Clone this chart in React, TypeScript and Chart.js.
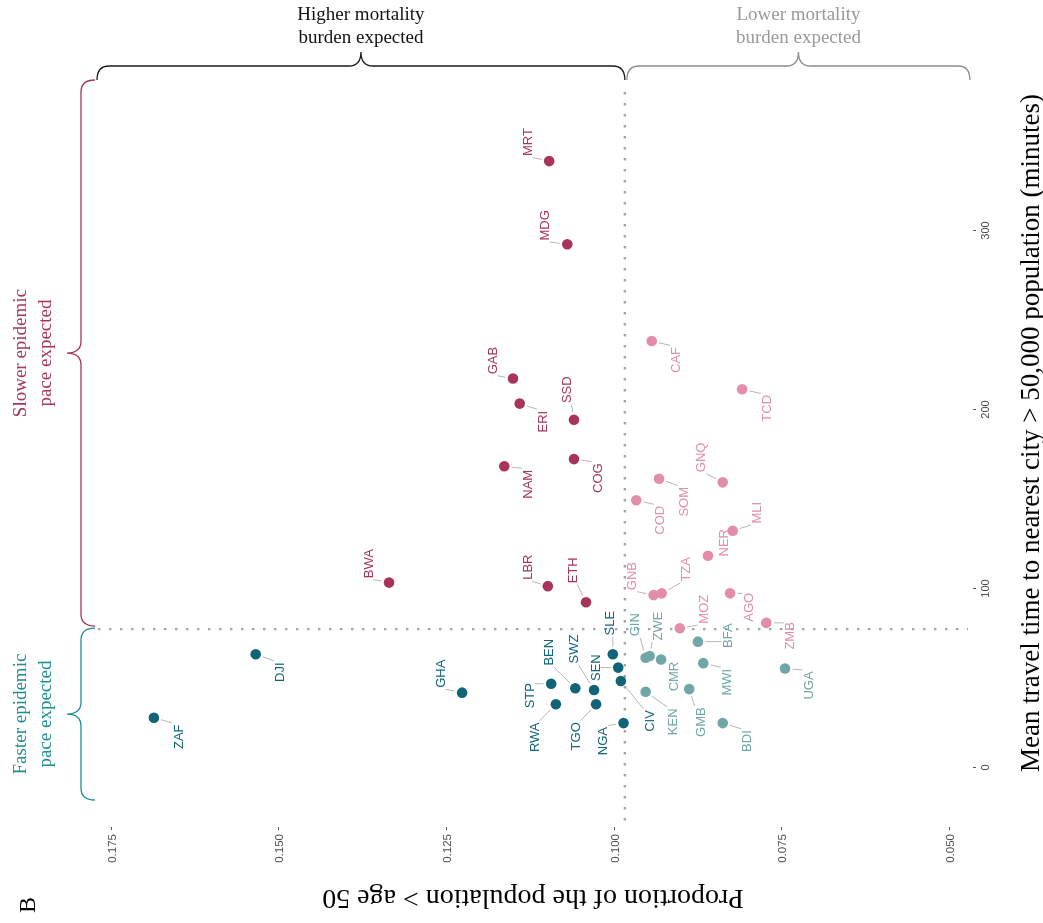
import { useEffect, useRef } from "react";
import { Chart, registerables } from "chart.js";

Chart.register(...registerables);

// Country codes with their share of population over 50 and travel time to a city > 50k
const CODES = [
  "MRT", "MDG", "GAB", "ERI", "SSD", "NAM", "COG", "BWA", "LBR", "ETH",
  "CAF", "TCD", "COD", "SOM", "GNQ", "MLI", "NER", "GNB", "TZA", "AGO",
  "MOZ", "ZMB", "BFA", "GIN", "ZWE", "CMR", "MWI", "UGA", "KEN", "GMB",
  "BDI", "SLE", "SEN", "CIV", "NGA", "STP", "RWA", "BEN", "SWZ", "TGO",
  "ZAF", "DJI", "GHA",
];
const PROP_OVER_50 = [
  0.1096, 0.1069, 0.115, 0.114, 0.1059, 0.1163, 0.1059, 0.1335, 0.1098, 0.1041,
  0.0943, 0.0808, 0.0966, 0.0932, 0.0837, 0.0822, 0.0859, 0.094, 0.0928, 0.0826,
  0.0901, 0.0772, 0.0874, 0.0952, 0.0946, 0.0929, 0.0866, 0.0744, 0.0952, 0.0887,
  0.0837, 0.1001, 0.0993, 0.0989, 0.0985, 0.1093, 0.1086, 0.1057, 0.1029, 0.1026,
  0.1686, 0.1534, 0.1226,
];
const TRAVEL_MINUTES = [
  338.5, 292, 217, 203, 194, 168, 172, 103, 101, 92,
  238, 211, 149, 161, 159, 132, 118, 96, 97, 97,
  77.5, 80.5, 70, 61, 62, 60, 58, 55, 42, 43.5,
  24.5, 63, 55.5, 48, 24.5, 46.5, 35, 44, 43, 35,
  27.5, 63, 41.5,
];

// Median-style split lines
const PROP_THRESHOLD = 0.0983;
const TRAVEL_THRESHOLD = 77;

const PROP_TICKS = [0.175, 0.15, 0.125, 0.1, 0.075, 0.05];
const TRAVEL_TICKS = [0, 100, 200, 300];

// Axis extents
const PROP_MIN = 0.04709;
const PROP_MAX = 0.17694;
const TRAVEL_MIN = -33;
const TRAVEL_MAX = 377.1;

// Label placement (pixel offset of the label centre from its point)
const LABEL_OFFSETS: Record<string, [number, number]> = {
  MRT: [-22, -19], MDG: [-23, -19], GAB: [-21, -18], ERI: [23, 18], SSD: [-8, -30],
  NAM: [23, 18], COG: [23, 19], BWA: [-21, -19], LBR: [-21, -19], ETH: [-14, -32],
  CAF: [24, 19], TCD: [24, 19], COD: [23, 20], SOM: [24, 23], GNQ: [-22, -25],
  MLI: [24, -18], NER: [15, -13], GNB: [-22, -19], TZA: [24, -24], AGO: [18, 14],
  MOZ: [23, -19], ZMB: [23, 13], BFA: [29, -6], GIN: [-11, -33], ZWE: [8, -30],
  CMR: [12, 17], MWI: [23, 19], UGA: [23, 17], KEN: [27, 30], GMB: [11, 33],
  BDI: [24, 18], SLE: [-4, -31], SEN: [-23, 0], CIV: [28, 40], NGA: [-21, 18],
  STP: [-22, 12], RWA: [-22, 33], BEN: [-27, -36], SWZ: [-21, -41], TGO: [-21, 32],
  ZAF: [24, 19], DJI: [24, 18], GHA: [-22, -19],
};

const CRIMSON = "#A8345E";
const PINK = "#E38DAA";
const DARK_TEAL = "#0F6577";
const LIGHT_TEAL = "#6FA7A6";
const BRACE_TEAL = "#1E8E8C";

const SANS = "'Liberation Sans', Arial, sans-serif";
const SERIF = "'Liberation Serif', 'Times New Roman', serif";

const WIDTH = 1043;
const HEIGHT = 923;

function colorFor(prop: number, minutes: number) {
  const higherMortality = prop > PROP_THRESHOLD;
  const slower = minutes > TRAVEL_THRESHOLD;
  if (slower) return higherMortality ? CRIMSON : PINK;
  return higherMortality ? DARK_TEAL : LIGHT_TEAL;
}

function vText(ctx: CanvasRenderingContext2D, text: string, x: number, y: number, align: CanvasTextAlign, capOffset: number) {
  ctx.save();
  ctx.translate(x, y);
  ctx.rotate(-Math.PI / 2);
  ctx.textAlign = align;
  ctx.textBaseline = "alphabetic";
  ctx.fillText(text, 0, capOffset);
  ctx.restore();
}

// Curly brace laid horizontally, cusp pointing up
function hBrace(ctx: CanvasRenderingContext2D, x1: number, x2: number, yEnd: number, depth: number, r: number) {
  const yl = yEnd - depth;
  const xm = (x1 + x2) / 2;
  ctx.beginPath();
  ctx.moveTo(x1, yEnd);
  ctx.quadraticCurveTo(x1, yl, x1 + r, yl);
  ctx.lineTo(xm - r, yl);
  ctx.quadraticCurveTo(xm, yl, xm, yl - depth);
  ctx.quadraticCurveTo(xm, yl, xm + r, yl);
  ctx.lineTo(x2 - r, yl);
  ctx.quadraticCurveTo(x2, yl, x2, yEnd);
  ctx.stroke();
}

// Curly brace laid vertically, cusp pointing left
function vBrace(ctx: CanvasRenderingContext2D, y1: number, y2: number, xEnd: number, depth: number, r: number) {
  const xl = xEnd - depth;
  const ym = (y1 + y2) / 2;
  ctx.beginPath();
  ctx.moveTo(xEnd, y1);
  ctx.quadraticCurveTo(xl, y1, xl, y1 + r);
  ctx.lineTo(xl, ym - r);
  ctx.quadraticCurveTo(xl, ym, xl - depth, ym);
  ctx.quadraticCurveTo(xl, ym, xl, ym + r);
  ctx.lineTo(xl, y2 - r);
  ctx.quadraticCurveTo(xl, y2, xEnd, y2);
  ctx.stroke();
}

const overlayPlugin = {
  id: "overlay",
  beforeDatasetsDraw(chart: any) {
    const { ctx, chartArea: a, scales } = chart;
    const tx = scales.x.getPixelForValue(PROP_THRESHOLD);
    const ty = scales.y.getPixelForValue(TRAVEL_THRESHOLD);
    ctx.save();
    ctx.strokeStyle = "#a3a3a3";
    ctx.lineWidth = 2.4;
    ctx.setLineDash([2.4, 8.6]);
    ctx.beginPath();
    ctx.moveTo(tx, a.top);
    ctx.lineTo(tx, a.bottom);
    ctx.moveTo(a.left, ty);
    ctx.lineTo(a.right, ty);
    ctx.stroke();
    ctx.restore();
  },
  afterDatasetsDraw(chart: any) {
    const { ctx, chartArea: a, scales } = chart;
    const xs = scales.x;
    const ys = scales.y;
    const tx = xs.getPixelForValue(PROP_THRESHOLD);
    const ty = ys.getPixelForValue(TRAVEL_THRESHOLD);
    ctx.save();

    // point labels with leader segments
    ctx.font = `13px ${SANS}`;
    CODES.forEach((code, i) => {
      const px = xs.getPixelForValue(PROP_OVER_50[i]);
      const py = ys.getPixelForValue(TRAVEL_MINUTES[i]);
      const [dx, dy] = LABEL_OFFSETS[code] || [20, 18];
      const cx = px + dx;
      const cy = py + dy;
      const w = ctx.measureText(code).width;
      const qx = Math.min(Math.max(px, cx - 5.5), cx + 5.5);
      const qy = Math.min(Math.max(py, cy - w / 2 - 1.5), cy + w / 2 + 1.5);
      const vx = px - qx;
      const vy = py - qy;
      const len = Math.hypot(vx, vy);
      if (len > 10) {
        const ex = px - (vx / len) * 7.5;
        const ey = py - (vy / len) * 7.5;
        ctx.strokeStyle = "#b5b5b5";
        ctx.lineWidth = 1;
        ctx.beginPath();
        ctx.moveTo(qx, qy);
        ctx.lineTo(ex, ey);
        ctx.stroke();
      }
      ctx.fillStyle = colorFor(PROP_OVER_50[i], TRAVEL_MINUTES[i]);
      vText(ctx, code, cx, cy, "center", 4.7);
    });

    // bottom axis (share of population over 50)
    ctx.strokeStyle = "#555";
    ctx.lineWidth = 1;
    ctx.fillStyle = "#4d4d4d";
    ctx.font = `11.5px ${SANS}`;
    PROP_TICKS.forEach((v) => {
      const x = Math.round(xs.getPixelForValue(v)) + 0.5;
      ctx.beginPath();
      ctx.moveTo(x, a.bottom + 1);
      ctx.lineTo(x, a.bottom + 4);
      ctx.stroke();
      vText(ctx, v.toFixed(3), x, a.bottom + 8, "right", 4);
    });

    // right axis (travel minutes)
    ctx.font = `11px ${SANS}`;
    TRAVEL_TICKS.forEach((v) => {
      const y = Math.round(ys.getPixelForValue(v)) + 0.5;
      ctx.beginPath();
      ctx.moveTo(a.right + 5, y);
      ctx.lineTo(a.right + 8, y);
      ctx.stroke();
      vText(ctx, String(v), a.right + 17, y, "center", 4);
    });

    // axis titles
    ctx.fillStyle = "#000";
    ctx.font = `27px ${SERIF}`;
    vText(ctx, "Mean travel time to nearest city > 50,000 population (minutes)", a.right + 62, 433, "center", 8.5);
    ctx.font = `28px ${SERIF}`;
    ctx.save();
    ctx.translate(533, 899);
    ctx.rotate(Math.PI);
    ctx.textAlign = "center";
    ctx.textBaseline = "alphabetic";
    ctx.fillText("Proportion of the population > age 50", 0, 9);
    ctx.restore();
    ctx.font = `24px ${SERIF}`;
    vText(ctx, "B", 27, 905, "center", 8);

    // mortality braces along the top
    ctx.lineWidth = 1.3;
    ctx.strokeStyle = "#1a1a1a";
    hBrace(ctx, a.left - 1, tx, 80, 14, 12);
    ctx.strokeStyle = "#8c8c8c";
    hBrace(ctx, tx + 2, a.right + 2, 80, 14, 12);

    ctx.font = `19px ${SERIF}`;
    ctx.textAlign = "center";
    ctx.textBaseline = "alphabetic";
    const hiMid = (a.left - 1 + tx) / 2;
    const loMid = (tx + 2 + a.right + 2) / 2;
    ctx.fillStyle = "#111";
    ctx.fillText("Higher mortality", hiMid, 20);
    ctx.fillText("burden expected", hiMid, 43);
    ctx.fillStyle = "#999";
    ctx.fillText("Lower mortality", loMid, 20);
    ctx.fillText("burden expected", loMid, 43);

    // epidemic pace braces down the left
    const slowTop = a.top - 12;
    const fastBottom = a.bottom - 26;
    ctx.strokeStyle = CRIMSON;
    vBrace(ctx, slowTop, ty - 3, 95, 14, 12);
    ctx.strokeStyle = BRACE_TEAL;
    vBrace(ctx, ty - 1, fastBottom, 95, 14, 12);

    ctx.font = `19px ${SERIF}`;
    const slowMid = (slowTop + ty - 3) / 2;
    const fastMid = (ty - 1 + fastBottom) / 2;
    ctx.fillStyle = CRIMSON;
    vText(ctx, "Slower epidemic", 20, slowMid, "center", 6);
    vText(ctx, "pace expected", 45, slowMid, "center", 6);
    ctx.fillStyle = BRACE_TEAL;
    vText(ctx, "Faster epidemic", 20, fastMid, "center", 6);
    vText(ctx, "pace expected", 45, fastMid, "center", 6);

    ctx.restore();
  },
};

export default function App() {
  const canvasRef = useRef<HTMLCanvasElement | null>(null);

  useEffect(() => {
    const canvas = canvasRef.current;
    if (!canvas) return;
    const points = CODES.map((code, i) => ({ x: PROP_OVER_50[i], y: TRAVEL_MINUTES[i], code }));
    const chart = new Chart(canvas, {
      type: "scatter",
      data: {
        datasets: [
          {
            label: "countries",
            data: points,
            pointRadius: 5.3,
            pointHoverRadius: 5.3,
            pointBorderWidth: 0,
            pointBackgroundColor: points.map((p) => colorFor(p.x, p.y)),
            pointBorderColor: points.map((p) => colorFor(p.x, p.y)),
          },
        ],
      },
      options: {
        responsive: false,
        animation: false,
        devicePixelRatio: 1,
        layout: { padding: { left: 98, right: 75, top: 92, bottom: 97 } },
        plugins: { legend: { display: false }, tooltip: { enabled: false } },
        scales: {
          x: { type: "linear", display: false, reverse: true, min: PROP_MIN, max: PROP_MAX },
          y: { type: "linear", display: false, position: "right", min: TRAVEL_MIN, max: TRAVEL_MAX },
        },
      },
      plugins: [overlayPlugin],
    });
    return () => chart.destroy();
  }, []);

  return (
    <div style={{ position: "absolute", left: 0, top: 0, width: WIDTH, height: HEIGHT }}>
      <canvas ref={canvasRef} width={WIDTH} height={HEIGHT} style={{ display: "block" }} />
    </div>
  );
}
